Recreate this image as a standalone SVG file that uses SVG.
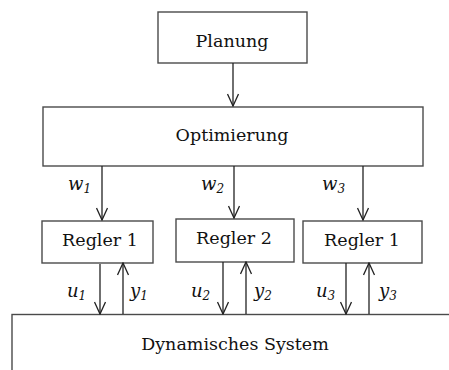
<svg xmlns="http://www.w3.org/2000/svg" width="449" height="370" viewBox="0 0 449 370">
  <style>
    .box { fill: #ffffff; stroke: #4a4a4a; stroke-width: 1.4; }
    .lbl { font-family: "DejaVu Serif", "Liberation Serif", serif; font-size: 17.5px; fill: #111111; text-anchor: middle; }
    .math { font-family: "DejaVu Serif", "Liberation Serif", serif; font-style: italic; font-size: 18px; fill: #111111; }
    .sub { font-size: 12px; }
    .wire { stroke: #222222; stroke-width: 1.3; fill: none; marker-end: url(#head); }
  </style>
  <defs>
    <marker id="head" viewBox="0 0 14 12" refX="13" refY="6" markerWidth="14" markerHeight="12" markerUnits="userSpaceOnUse" orient="auto">
      <path d="M1,0.5 L13,6 L1,11.5" fill="none" stroke="#222222" stroke-width="1.3"/>
    </marker>
  </defs>

  <!-- blocks -->
  <g id="planung">
    <rect class="box" x="158" y="12" width="149" height="51"/>
    <text class="lbl" x="232" y="47">Planung</text>
  </g>
  <g id="optimierung">
    <rect class="box" x="43" y="107" width="380" height="59"/>
    <text class="lbl" x="232" y="141">Optimierung</text>
  </g>
  <g id="regler-a">
    <rect class="box" x="42" y="221" width="111" height="42"/>
    <text class="lbl" x="100" y="246">Regler 1</text>
  </g>
  <g id="regler-b">
    <rect class="box" x="176" y="219" width="118" height="43"/>
    <text class="lbl" x="234" y="244">Regler 2</text>
  </g>
  <g id="regler-c">
    <rect class="box" x="303" y="221" width="119" height="42"/>
    <text class="lbl" x="362" y="246">Regler 1</text>
  </g>
  <g id="system">
    <rect class="box" x="12" y="314.5" width="460" height="80"/>
    <text class="lbl" x="235" y="350">Dynamisches System</text>
  </g>

  <!-- connectors -->
  <g id="connectors">
    <path class="wire" d="M233,63 V106"/>
    <path class="wire" d="M102,166 V220"/>
    <path class="wire" d="M234,166 V218"/>
    <path class="wire" d="M363,166 V220"/>
    <path class="wire" d="M100,264 V314"/>
    <path class="wire" d="M123,314 V263"/>
    <path class="wire" d="M223,262 V314"/>
    <path class="wire" d="M246,314 V262"/>
    <path class="wire" d="M346,263 V314"/>
    <path class="wire" d="M369,314 V263"/>
  </g>

  <!-- signal labels -->
  <g id="labels">
    <text class="math" x="68" y="190">w<tspan class="sub" dy="3">1</tspan></text>
    <text class="math" x="201" y="190">w<tspan class="sub" dy="3">2</tspan></text>
    <text class="math" x="322" y="190">w<tspan class="sub" dy="3">3</tspan></text>
    <text class="math" x="67" y="297">u<tspan class="sub" dy="3">1</tspan></text>
    <text class="math" x="130" y="297">y<tspan class="sub" dy="3">1</tspan></text>
    <text class="math" x="191" y="297">u<tspan class="sub" dy="3">2</tspan></text>
    <text class="math" x="254" y="297">y<tspan class="sub" dy="3">2</tspan></text>
    <text class="math" x="316" y="297">u<tspan class="sub" dy="3">3</tspan></text>
    <text class="math" x="379" y="297">y<tspan class="sub" dy="3">3</tspan></text>
  </g>
</svg>
